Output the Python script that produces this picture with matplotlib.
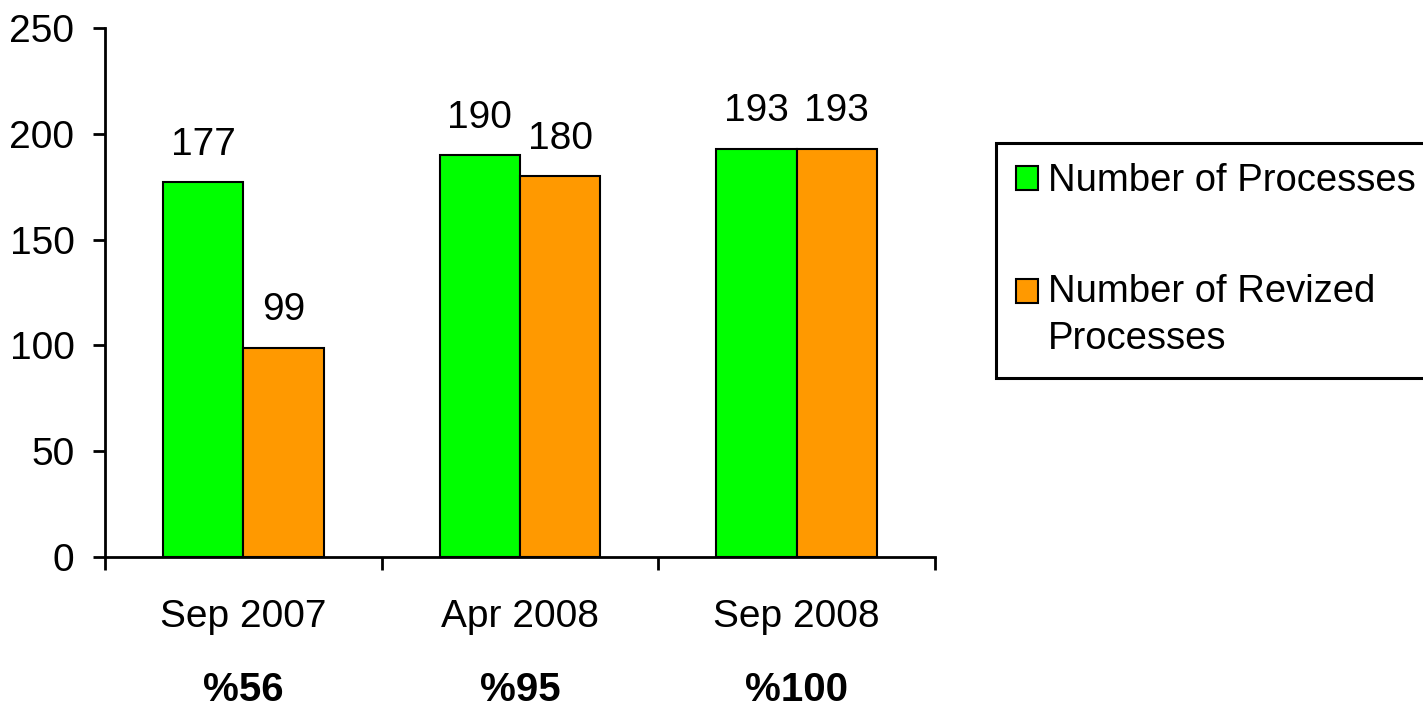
import matplotlib
matplotlib.use("Agg")
import matplotlib.pyplot as plt
import numpy as np
from matplotlib.ticker import FixedLocator
from matplotlib.patches import Rectangle
from matplotlib.legend_handler import HandlerPatch

categories = ["Sep 2007", "Apr 2008", "Sep 2008"]
processes = [177, 190, 193]
revised = [99, 180, 193]
percents = ["%56", "%95", "%100"]
series_names = ["Number of Processes", "Number of Revized\nProcesses"]
yticks = [0, 50, 100, 150, 200, 250]

plt.rcParams['font.family'] = ['Liberation Sans', 'DejaVu Sans']
FS = 28
LFS = 27.5
LINESP = 1.42

W, H = 1423, 711
fig = plt.figure(figsize=(W/100, H/100), dpi=100)
ax = fig.add_axes([105/W, 1-557/H, (935-105)/W, (557-28)/H])

x = np.arange(len(categories))
bw = 80/276
b1 = ax.bar(x - bw/2, processes, bw, color="#00FF00", edgecolor="black", linewidth=1.5, label=series_names[0])
b2 = ax.bar(x + bw/2, revised, bw, color="#FF9900", edgecolor="black", linewidth=1.5, label=series_names[1])

for bars, vals in ((b1, processes), (b2, revised)):
    for r, v in zip(bars, vals):
        ax.annotate(str(v), (r.get_x() + r.get_width()/2, v), xytext=(0, 14),
                    textcoords="offset points", ha="center", va="bottom", fontsize=FS)

ax.set_xlim(-0.5, len(categories) - 0.5)
ax.set_ylim(0, 250)
ax.set_yticks(yticks)
ax.set_xticks(x)
ax.set_xticklabels(categories, fontsize=FS)
ax.xaxis.set_minor_locator(FixedLocator(np.arange(len(categories) + 1) - 0.5))
ax.tick_params(axis="x", which="major", length=0, pad=30)
ax.tick_params(axis="x", which="minor", length=9, width=2, direction="out")
ax.tick_params(axis="y", length=9, width=2, labelsize=FS, pad=13)
for s in ["top", "right"]:
    ax.spines[s].set_visible(False)
for s in ["left", "bottom"]:
    ax.spines[s].set_linewidth(2)

pct_y = -(690-557)/(557-28)
for xi, p in zip(x, percents):
    ax.text(xi, pct_y, p, transform=ax.get_xaxis_transform(), ha="center", va="center",
            fontsize=29, fontweight="bold",
            family=['Liberation Sans Narrow', 'Liberation Sans', 'DejaVu Sans'])

h1 = b1.patches[0]
h2 = b2.patches[0]


def top_square(legend, orig_handle, xdescent, ydescent, width, height, fontsize):
    # align the square with the first text line of a multi-line label
    nlines = 2 if orig_handle is h2 else 1
    shift = (nlines - 1) * 0.5 * LINESP * 0.92 * fontsize
    return Rectangle((-xdescent, -ydescent + shift), width, height)


leg = fig.legend(handles=[h1, h2], labels=series_names, loc="upper left",
                 bbox_to_anchor=(996/W, 1-143/H), borderaxespad=0, fontsize=LFS,
                 frameon=True, fancybox=False, edgecolor="black", framealpha=1,
                 handlelength=0.58, handleheight=0.58, handletextpad=0.25,
                 labelspacing=1.95, borderpad=0.53,
                 handler_map={h1: HandlerPatch(patch_func=top_square),
                              h2: HandlerPatch(patch_func=top_square)})
for t in leg.get_texts():
    t.set_linespacing(LINESP)
leg.get_frame().set_linewidth(2.2)

fig.savefig("out.png", dpi=100, facecolor="white")
